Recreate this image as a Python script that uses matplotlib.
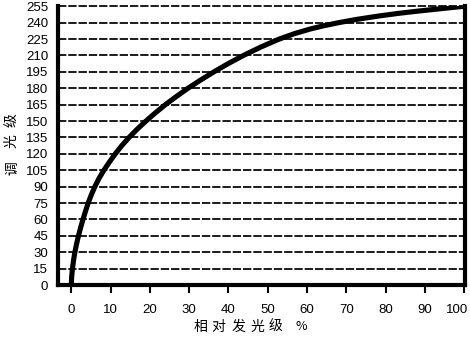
import matplotlib
matplotlib.use("Agg")
import matplotlib.pyplot as plt
from matplotlib import font_manager
import matplotlib.transforms as mtrans

# Data (relative light output % vs dimming level)
rel_pct = [0, 0.1, 0.3, 0.57, 0.92, 1.34, 1.83, 2.38, 2.98, 3.62, 4.3, 5.1,
           6.0, 7.05, 8.3, 9.7, 11.2, 12.85, 14.7, 16.75, 19.0, 21.4, 23.95,
           26.75, 29.7, 32.9, 36.3, 39.9, 43.8, 48.1, 52.9, 56.8, 60.6, 64.0,
           68.0, 72.6, 78.0, 83.2, 88.5, 93.2, 97.2, 100.0]
level = [0, 7.5, 15, 22.5, 30, 37.5, 45, 52.5, 60, 67.5, 75, 82.5,
         90, 97.5, 105, 112.5, 120, 127.5, 135, 142.5, 150, 157.5, 165,
         172.5, 180, 187.5, 195, 202.5, 210, 217.5, 225, 230, 234, 237,
         240, 243, 246, 248.5, 250.7, 252.5, 254, 255]
xticks = [0, 10, 20, 30, 40, 50, 60, 70, 80, 90, 100]
yticks = list(range(0, 256, 15))
xlabel_chars = ["相", "对", "发", "光", "级", "%"]
xlabel_px = [200, 218.5, 238.5, 257.5, 275.5, 301.5]
ylabel_chars = ["调", "光", "级"]
ylabel_py = [168, 141, 120]

names = {f.name for f in font_manager.fontManager.ttflist}
num_font = "Liberation Sans Narrow" if "Liberation Sans Narrow" in names else "Liberation Sans"
cjk = ["Noto Sans CJK SC", "DejaVu Sans"]

plt.rcParams['lines.scale_dashes'] = False
W, H = 470, 344
fig = plt.figure(figsize=(W / 100, H / 100), dpi=100)
ax = fig.add_axes([58 / W, 1 - 285 / H, (465 - 58) / W, (285 - 6.3) / H])

ax.set_xlim(-3.38, 100.2)
ax.set_ylim(0, 255)

for yv in yticks[1:]:
    ax.axhline(yv, color="black", lw=1.25, dashes=(6, 1.4), zorder=1, clip_on=False)

ax.plot(rel_pct, level, color="black", lw=3.7, solid_capstyle="butt",
        solid_joinstyle="round", zorder=3)

for side in ["left", "bottom", "right"]:
    ax.spines[side].set_linewidth(3.0)
ax.spines["top"].set_visible(False)

ax.set_xticks(xticks)
ax.set_yticks(yticks)
ax.tick_params(axis="x", direction="out", length=6, width=1.5, pad=7.5)
ax.tick_params(axis="y", length=0, pad=7)
for lab in ax.get_xticklabels() + ax.get_yticklabels():
    lab.set_fontfamily(num_font)
    lab.set_fontsize(9.5)
last = ax.get_xticklabels()[-1]
last.set_transform(last.get_transform() +
                   mtrans.ScaledTranslation(-7 / 100, 0, fig.dpi_scale_trans))

for ch, px in zip(xlabel_chars, xlabel_px):
    fs = 10 if ch != "%" else 9
    fig.text(px / W, 1 - 327 / H, ch, family=cjk, fontsize=fs,
             ha="center", va="center")
for ch, py in zip(ylabel_chars, ylabel_py):
    fig.text(12 / W, 1 - py / H, ch, family=cjk, fontsize=10,
             ha="center", va="center", rotation=90)

fig.savefig("out.png", dpi=100)
